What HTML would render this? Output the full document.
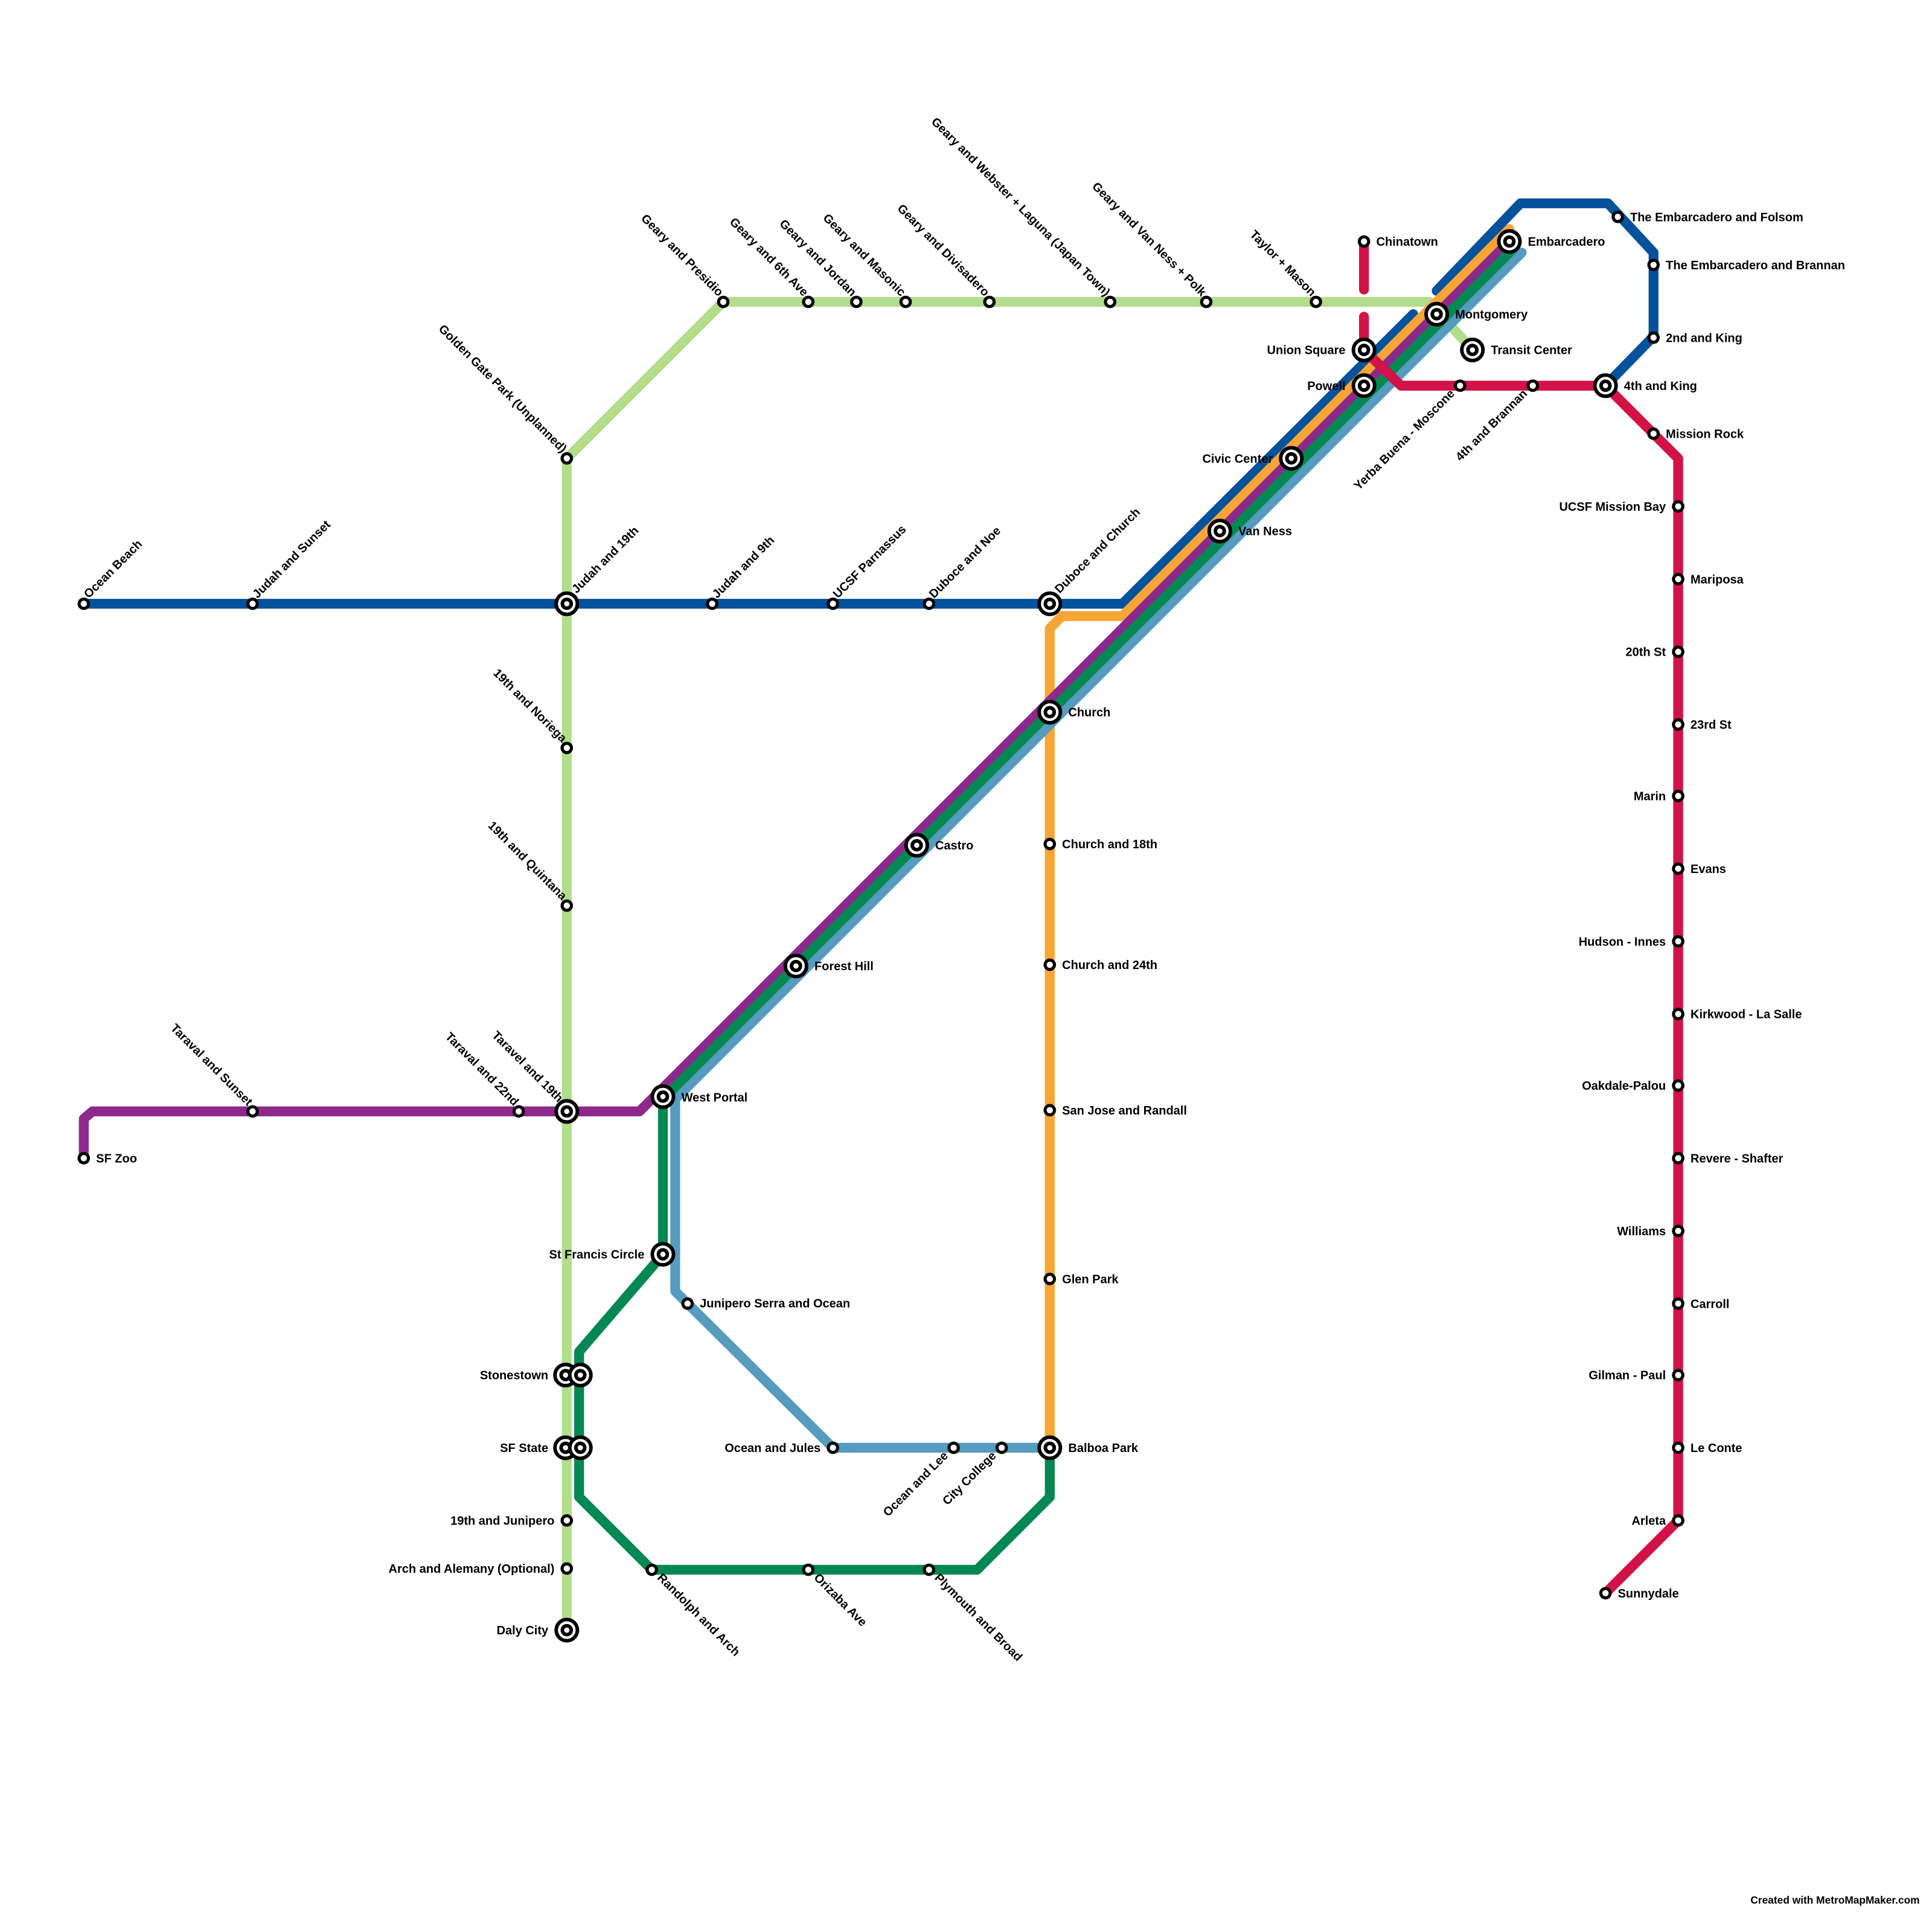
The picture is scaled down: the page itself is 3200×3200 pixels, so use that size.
<!DOCTYPE html>
<html><head><meta charset="utf-8"><style>
html,body{margin:0;padding:0;background:#fff;}
svg{display:block}
text{font-family:"Liberation Sans",Arial,sans-serif;font-weight:bold;font-size:9.8px;fill:#000}
.l{fill:none;stroke-width:8;stroke-linecap:round;stroke-linejoin:round}
.s{fill:#fff;stroke:#000;stroke-width:2.5}
.i{fill:#fff;stroke:#000;stroke-width:2.9}
</style></head><body>
<svg width="3200" height="3200" viewBox="0 0 1568 1568" xmlns="http://www.w3.org/2000/svg">
<rect width="1568" height="1568" fill="#fff"/>
<polyline class="l" stroke="#b2dd8b" points="460,1323 460,372 587,245 1160,245 1195,284"/>
<polyline class="l" stroke="#03529b" points="68,490 911,490 1147,255"/>
<polyline class="l" stroke="#03529b" points="1166,236 1234,165 1305,165 1342,205 1342,273 1303,313"/>
<polyline class="l" stroke="#f7a535" points="852,1175 852,510 862,500 911,500 1225,186"/>
<polyline class="l" stroke="#8e288c" points="68,940 68,908 75,902 519,902 1225,196"/>
<polyline class="l" stroke="#559cbf" points="1235,205 548,892 548,1048 676,1175 852,1175"/>
<polyline class="l" stroke="#048853" points="1228,202 538,892 538,1018 470,1097 470,1215 529,1274 793,1274 852,1215 852,1175"/>
<polyline class="l" stroke="#d21347" points="1107,196 1107,235"/>
<polyline class="l" stroke="#d21347" points="1107,257 1107,284 1137,313 1303,313 1362,372 1362,1234 1303,1293"/>

<g class="s">
<circle cx="68" cy="490" r="3.8"/><circle cx="205" cy="490" r="3.8"/><circle cx="578" cy="490" r="3.8"/><circle cx="676" cy="490" r="3.8"/><circle cx="754" cy="490" r="3.8"/>
<circle cx="460" cy="372" r="3.8"/><circle cx="587" cy="245" r="3.8"/><circle cx="656" cy="245" r="3.8"/><circle cx="695" cy="245" r="3.8"/><circle cx="735" cy="245" r="3.8"/><circle cx="803" cy="245" r="3.8"/><circle cx="901" cy="245" r="3.8"/><circle cx="979" cy="245" r="3.8"/><circle cx="1068" cy="245" r="3.8"/>
<circle cx="460" cy="607" r="3.8"/><circle cx="460" cy="735" r="3.8"/>
<circle cx="205" cy="902" r="3.8"/><circle cx="421" cy="902" r="3.8"/><circle cx="68" cy="940" r="3.8"/>
<circle cx="558" cy="1058" r="3.8"/><circle cx="460" cy="1234" r="3.8"/><circle cx="460" cy="1273" r="3.8"/>
<circle cx="529" cy="1274" r="3.8"/><circle cx="656" cy="1274" r="3.8"/><circle cx="754" cy="1274" r="3.8"/>
<circle cx="676" cy="1175" r="3.8"/><circle cx="774" cy="1175" r="3.8"/><circle cx="813" cy="1175" r="3.8"/>
<circle cx="852" cy="1038" r="3.8"/><circle cx="852" cy="901" r="3.8"/><circle cx="852" cy="783" r="3.8"/><circle cx="852" cy="685" r="3.8"/>
<circle cx="1107" cy="196" r="3.8"/><circle cx="1185" cy="313" r="3.8"/><circle cx="1244" cy="313" r="3.8"/>
<circle cx="1313" cy="176" r="3.8"/><circle cx="1342" cy="215" r="3.8"/><circle cx="1342" cy="274" r="3.8"/><circle cx="1342" cy="352" r="3.8"/>
<circle cx="1362" cy="411" r="3.8"/><circle cx="1362" cy="470" r="3.8"/><circle cx="1362" cy="529" r="3.8"/><circle cx="1362" cy="588" r="3.8"/><circle cx="1362" cy="646" r="3.8"/><circle cx="1362" cy="705" r="3.8"/><circle cx="1362" cy="764" r="3.8"/><circle cx="1362" cy="823" r="3.8"/><circle cx="1362" cy="881" r="3.8"/><circle cx="1362" cy="940" r="3.8"/><circle cx="1362" cy="999" r="3.8"/><circle cx="1362" cy="1058" r="3.8"/><circle cx="1362" cy="1116" r="3.8"/><circle cx="1362" cy="1175" r="3.8"/><circle cx="1362" cy="1234" r="3.8"/>
<circle cx="1303" cy="1293" r="3.8"/>
</g>
<g class="i">
<circle cx="460" cy="490" r="8.6"/><circle cx="460" cy="490" r="3.6"/>
<circle cx="852" cy="490" r="8.6"/><circle cx="852" cy="490" r="3.6"/>
<circle cx="460" cy="902" r="8.6"/><circle cx="460" cy="902" r="3.6"/>
<circle cx="538" cy="890" r="8.6"/><circle cx="538" cy="890" r="3.6"/>
<circle cx="538" cy="1018" r="8.6"/><circle cx="538" cy="1018" r="3.6"/>
<circle cx="459" cy="1116" r="8.6"/><circle cx="459" cy="1116" r="3.6"/>
<circle cx="471" cy="1116" r="8.6"/><circle cx="471" cy="1116" r="3.6"/>
<circle cx="459" cy="1175" r="8.6"/><circle cx="459" cy="1175" r="3.6"/>
<circle cx="471" cy="1175" r="8.6"/><circle cx="471" cy="1175" r="3.6"/>
<circle cx="460" cy="1323" r="8.6"/><circle cx="460" cy="1323" r="3.6"/>
<circle cx="852" cy="1175" r="8.6"/><circle cx="852" cy="1175" r="3.6"/>
<circle cx="852" cy="578" r="8.6"/><circle cx="852" cy="578" r="3.6"/>
<circle cx="744" cy="686" r="8.6"/><circle cx="744" cy="686" r="3.6"/>
<circle cx="646" cy="784" r="8.6"/><circle cx="646" cy="784" r="3.6"/>
<circle cx="990" cy="431" r="8.6"/><circle cx="990" cy="431" r="3.6"/>
<circle cx="1048" cy="372" r="8.6"/><circle cx="1048" cy="372" r="3.6"/>
<circle cx="1107" cy="313" r="8.6"/><circle cx="1107" cy="313" r="3.6"/>
<circle cx="1107" cy="284" r="8.6"/><circle cx="1107" cy="284" r="3.6"/>
<circle cx="1166" cy="255" r="8.6"/><circle cx="1166" cy="255" r="3.6"/>
<circle cx="1195" cy="284" r="8.6"/><circle cx="1195" cy="284" r="3.6"/>
<circle cx="1225" cy="196" r="8.6"/><circle cx="1225" cy="196" r="3.6"/>
<circle cx="1303" cy="313" r="8.6"/><circle cx="1303" cy="313" r="3.6"/>
</g>

<g>
<text transform="translate(72,486) rotate(-45)">Ocean Beach</text>
<text transform="translate(209,486) rotate(-45)">Judah and Sunset</text>
<text transform="translate(468,482) rotate(-45)">Judah and 19th</text>
<text transform="translate(582,486) rotate(-45)">Judah and 9th</text>
<text transform="translate(680,486) rotate(-45)">UCSF Parnassus</text>
<text transform="translate(758,486) rotate(-45)">Duboce and Noe</text>
<text transform="translate(860,482) rotate(-45)">Duboce and Church</text>
</g>
<g text-anchor="end">
<text transform="translate(456,368) rotate(45)">Golden Gate Park (Unplanned)</text>
<text transform="translate(583,241) rotate(45)">Geary and Presidio</text>
<text transform="translate(652,241) rotate(45)">Geary and 6th Ave</text>
<text transform="translate(691,241) rotate(45)">Geary and Jordan</text>
<text transform="translate(731,241) rotate(45)">Geary and Masonic</text>
<text transform="translate(799,241) rotate(45)">Geary and Divisadero</text>
<text transform="translate(897,241) rotate(45)">Geary and Webster + Laguna (Japan Town)</text>
<text transform="translate(975,241) rotate(45)">Geary and Van Ness + Polk</text>
<text transform="translate(1064,241) rotate(45)">Taylor + Mason</text>
<text transform="translate(456,603) rotate(45)">19th and Noriega</text>
<text transform="translate(456,731) rotate(45)">19th and Quintana</text>
<text transform="translate(201,898) rotate(45)">Taraval and Sunset</text>
<text transform="translate(417,898) rotate(45)">Taraval and 22nd</text>
<text transform="translate(453,895) rotate(45)">Taravel and 19th</text>
</g>
<g>
<text transform="translate(533,1281) rotate(45)">Randolph and Arch</text>
<text transform="translate(660,1281) rotate(45)">Orizaba Ave</text>
<text transform="translate(758,1281) rotate(45)">Plymouth and Broad</text>
</g>
<g text-anchor="end">
<text transform="translate(770,1182) rotate(-45)">Ocean and Lee</text>
<text transform="translate(809,1182) rotate(-45)">City College</text>
<text transform="translate(1181,320) rotate(-45)">Yerba Buena - Moscone</text>
<text transform="translate(1240,320) rotate(-45)">4th and Brannan</text>
</g>
<g>
<text x="78" y="943.5">SF Zoo</text>
<text x="553" y="894">West Portal</text>
<text x="568" y="1061">Junipero Serra and Ocean</text>
<text x="867" y="1178.5">Balboa Park</text>
<text x="862" y="1041.5">Glen Park</text>
<text x="862" y="904.5">San Jose and Randall</text>
<text x="862" y="786.5">Church and 24th</text>
<text x="862" y="688.5">Church and 18th</text>
<text x="867" y="581.5">Church</text>
<text x="759" y="689.5">Castro</text>
<text x="661" y="787.5">Forest Hill</text>
<text x="1005" y="434.5">Van Ness</text>
<text x="1117" y="199.5">Chinatown</text>
<text x="1181" y="258.5">Montgomery</text>
<text x="1210" y="287.5">Transit Center</text>
<text x="1240" y="199.5">Embarcadero</text>
<text x="1318" y="316.5">4th and King</text>
<text x="1323" y="179.5">The Embarcadero and Folsom</text>
<text x="1352" y="218.5">The Embarcadero and Brannan</text>
<text x="1352" y="277.5">2nd and King</text>
<text x="1352" y="355.5">Mission Rock</text>
<text x="1372" y="473.5">Mariposa</text>
<text x="1372" y="591.5">23rd St</text>
<text x="1372" y="708.5">Evans</text>
<text x="1372" y="826.5">Kirkwood - La Salle</text>
<text x="1372" y="943.5">Revere - Shafter</text>
<text x="1372" y="1061.5">Carroll</text>
<text x="1372" y="1178.5">Le Conte</text>
<text x="1313" y="1296.5">Sunnydale</text>
</g>
<g text-anchor="end">
<text x="523" y="1021.5">St Francis Circle</text>
<text x="445" y="1119.5">Stonestown</text>
<text x="445" y="1178.5">SF State</text>
<text x="450" y="1237.5">19th and Junipero</text>
<text x="450" y="1276.5">Arch and Alemany (Optional)</text>
<text x="445" y="1326.5">Daly City</text>
<text x="666" y="1178.5">Ocean and Jules</text>
<text x="1033" y="375.5">Civic Center</text>
<text x="1092" y="316.5">Powell</text>
<text x="1092" y="287.5">Union Square</text>
<text x="1352" y="414.5">UCSF Mission Bay</text>
<text x="1352" y="532.5">20th St</text>
<text x="1352" y="649.5">Marin</text>
<text x="1352" y="767.5">Hudson - Innes</text>
<text x="1352" y="884.5">Oakdale-Palou</text>
<text x="1352" y="1002.5">Williams</text>
<text x="1352" y="1119.5">Gilman - Paul</text>
<text x="1352" y="1237.5">Arleta</text>
<text x="1558" y="1545" style="font-size:8.5px">Created with MetroMapMaker.com</text>
</g>
</svg>
</body></html>
